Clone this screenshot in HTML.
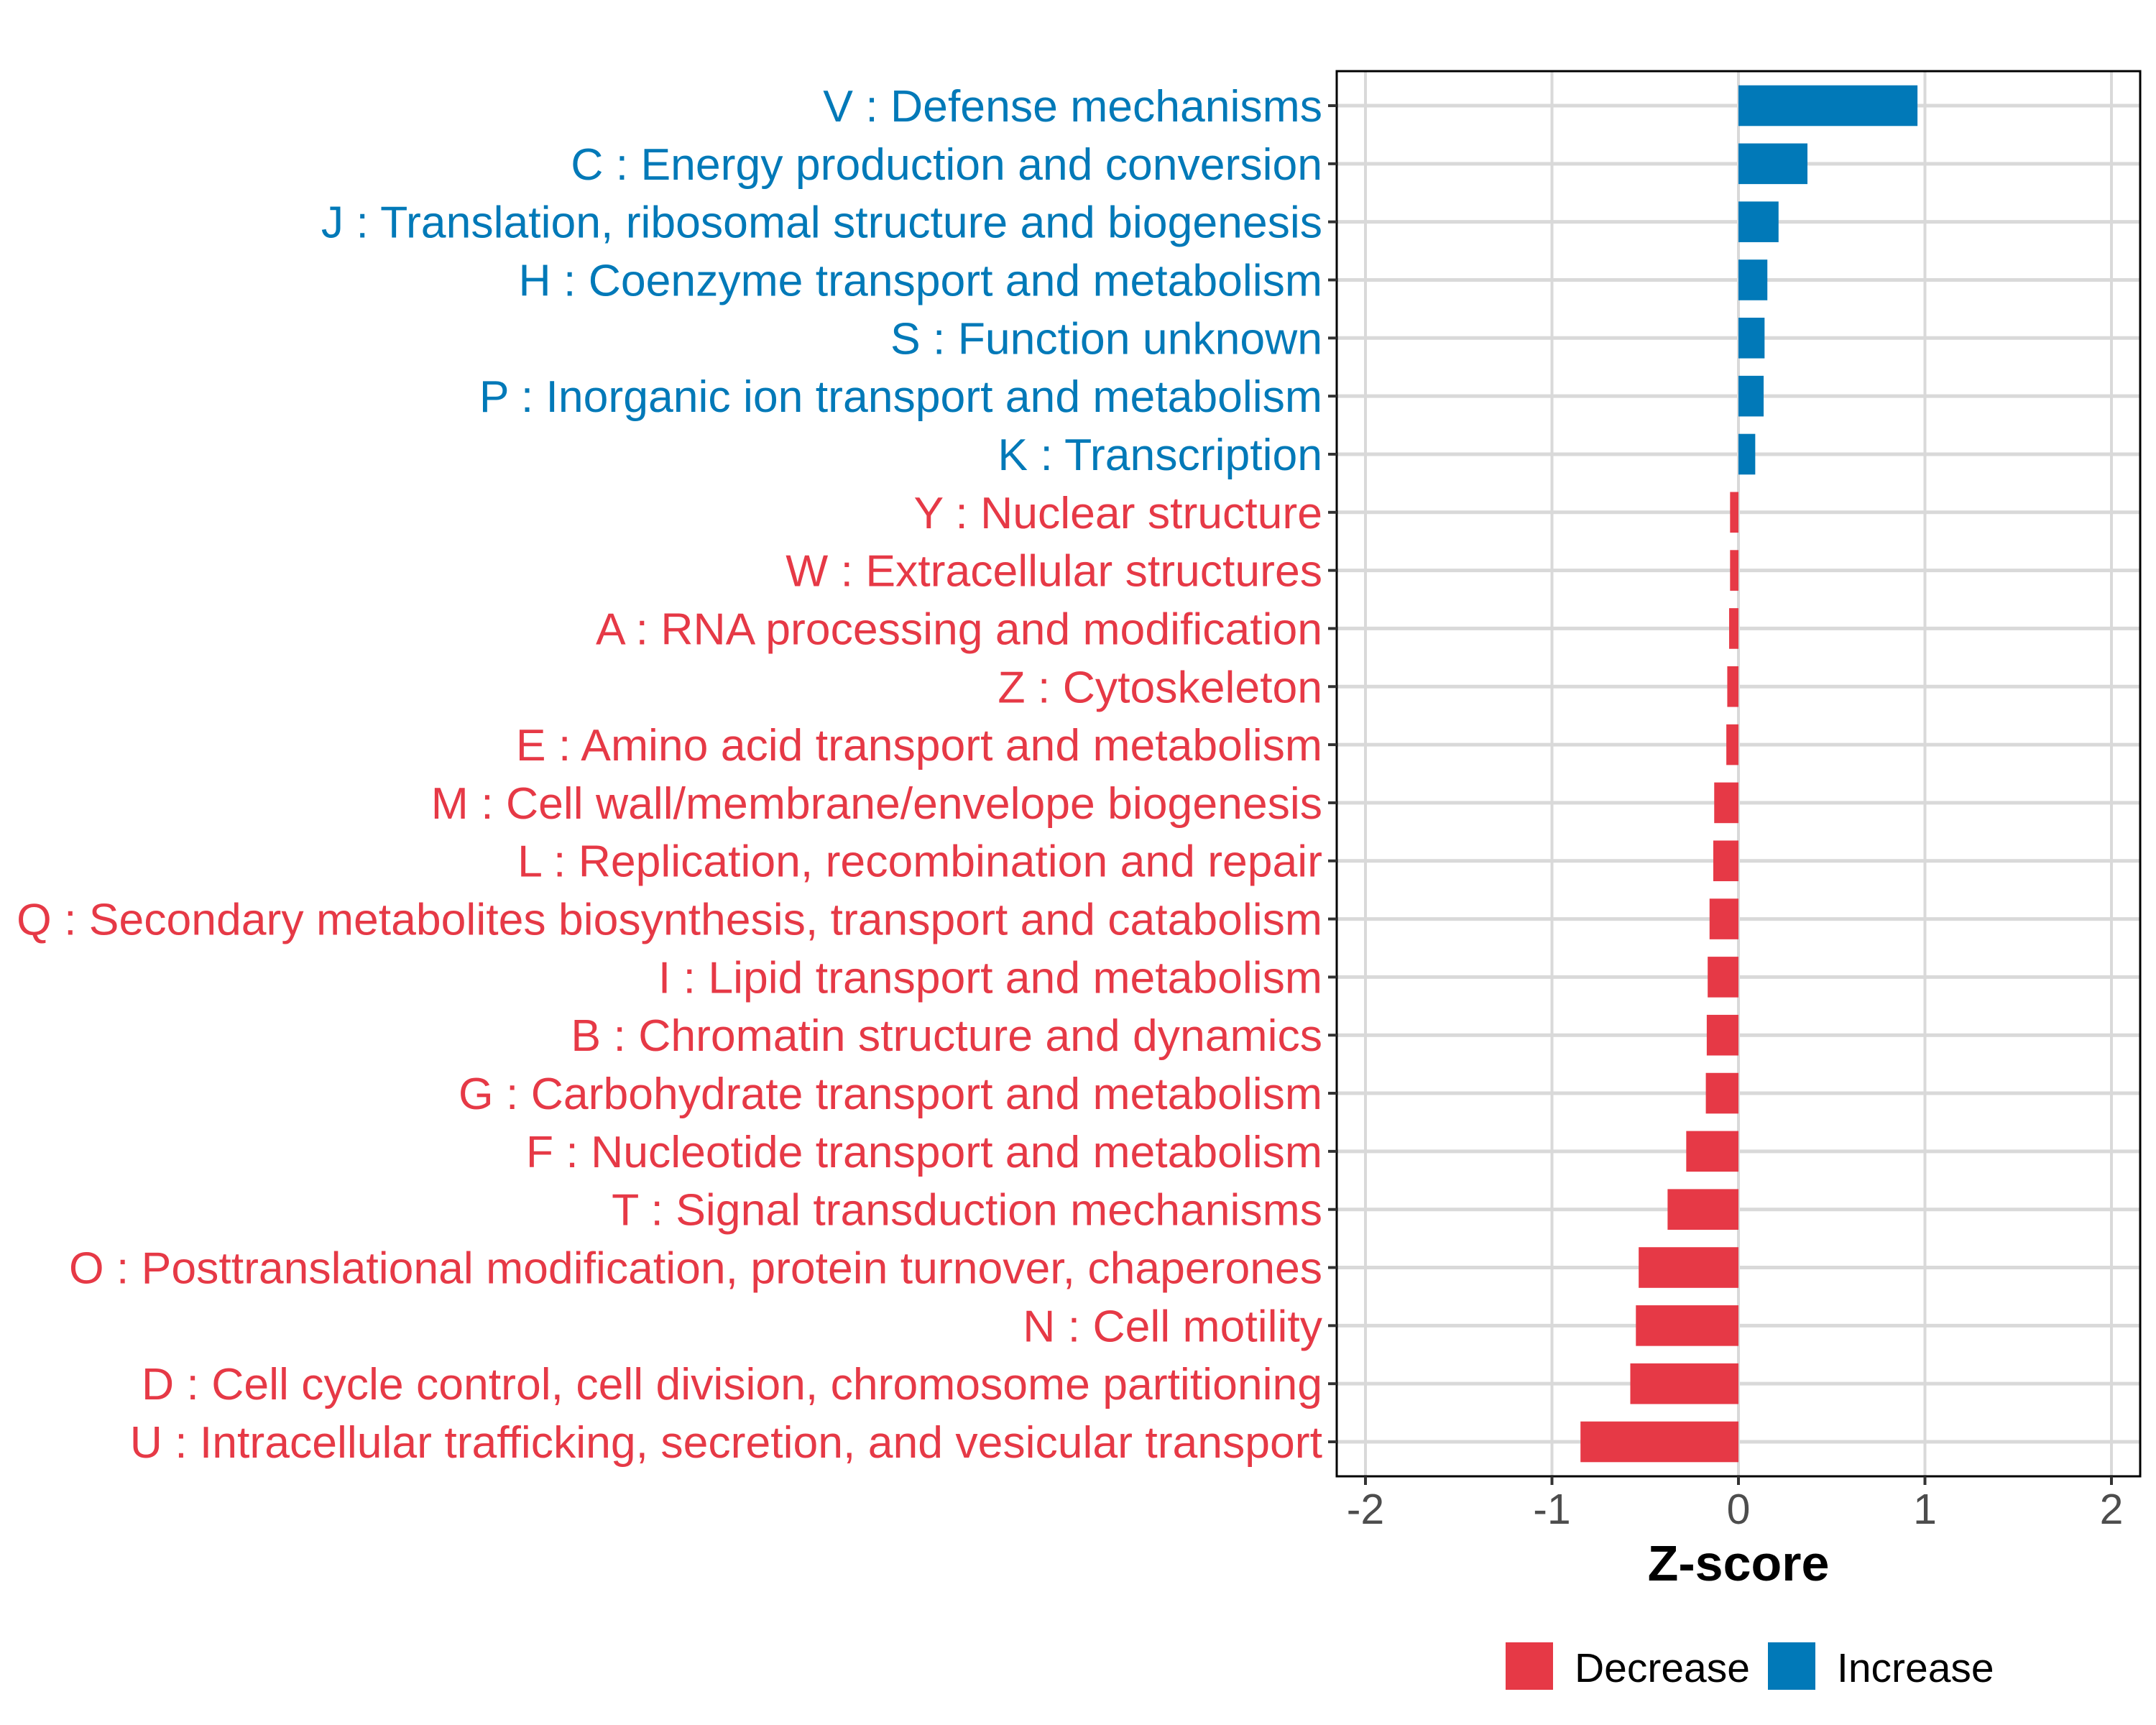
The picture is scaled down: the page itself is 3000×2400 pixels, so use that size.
<!DOCTYPE html>
<html><head><meta charset="utf-8"><style>
html,body{margin:0;padding:0;background:#fff;}
svg{display:block;font-family:"Liberation Sans",sans-serif;}
</style></head><body>
<svg id="chart" width="3000" height="2400" viewBox="0 0 3000 2400"></svg>
<script>
const categories=["V : Defense mechanisms","C : Energy production and conversion","J : Translation, ribosomal structure and biogenesis","H : Coenzyme transport and metabolism","S : Function unknown","P : Inorganic ion transport and metabolism","K : Transcription","Y : Nuclear structure","W : Extracellular structures","A : RNA processing and modification","Z : Cytoskeleton","E : Amino acid transport and metabolism","M : Cell wall/membrane/envelope biogenesis","L : Replication, recombination and repair","Q : Secondary metabolites biosynthesis, transport and catabolism","I : Lipid transport and metabolism","B : Chromatin structure and dynamics","G : Carbohydrate transport and metabolism","F : Nucleotide transport and metabolism","T : Signal transduction mechanisms","O : Posttranslational modification, protein turnover, chaperones","N : Cell motility","D : Cell cycle control, cell division, chromosome partitioning","U : Intracellular trafficking, secretion, and vesicular transport"];
const zscores=[0.96,0.37,0.215,0.155,0.14,0.135,0.09,-0.045,-0.045,-0.05,-0.06,-0.065,-0.13,-0.135,-0.155,-0.165,-0.17,-0.175,-0.28,-0.38,-0.535,-0.55,-0.58,-0.847];
const xTicks=[-2,-1,0,1,2];
const xTickLabels=["-2","-1","0","1","2"];
const legendLabels=["Decrease","Increase"];

const NS="http://www.w3.org/2000/svg";
const svg=document.getElementById('chart');
const RED="#E63946",BLUE="#0179B8";
const PL=1860,PR=2978,PT=99,PB=2054;
const X0=2419,XU=259.5;
const xs=v=>X0+v*XU;
const ROW0=147,ROWH=(2006-147)/23;
const ys=i=>ROW0+i*ROWH;
function mk(tag,attrs,parent){const e=document.createElementNS(NS,tag);for(const k in attrs)e.setAttribute(k,attrs[k]);(parent||svg).appendChild(e);return e;}

const grid=mk('g',{});


xTicks.forEach(t=>{mk('line',{x1:xs(t),x2:xs(t),y1:PT,y2:PB,stroke:'#D9D9D9','stroke-width':4},grid);});
categories.forEach((c,i)=>{mk('line',{x1:PL,x2:PR,y1:ys(i),y2:ys(i),stroke:'#D9D9D9','stroke-width':5},grid);});

const bars=mk('g',{});


const BH=ROWH*0.7;
zscores.forEach((v,i)=>{
  const r=mk('rect',{x:Math.min(xs(0),xs(v)),y:ys(i)-BH/2,width:Math.abs(xs(v)-xs(0)),height:BH,fill:v>=0?BLUE:RED},bars);
  
  
});

const frame=mk('rect',{x:PL,y:PT,width:PR-PL,height:PB-PT,fill:'none',stroke:'#000','stroke-width':3});



const ylab=mk('g',{});


categories.forEach((c,i)=>{
  mk('line',{x1:PL-12,x2:PL,y1:ys(i),y2:ys(i),stroke:'#333','stroke-width':4},ylab);
  const t=mk('text',{x:PL-20,y:ys(i)+22,'text-anchor':'end','font-size':62.5,fill:zscores[i]>=0?BLUE:RED},ylab);
  t.textContent=c;
  
  
});

const xax=mk('g',{});


xTicks.forEach((t,i)=>{
  mk('line',{x1:xs(t),x2:xs(t),y1:PB,y2:PB+12,stroke:'#333','stroke-width':4},xax);
  const tx=mk('text',{x:xs(t),y:2120,'text-anchor':'middle','font-size':59,fill:'#4D4D4D'},xax);
  tx.textContent=xTickLabels[i];
  
  
});
const xt=mk('text',{x:2419,y:2199,'text-anchor':'middle','font-size':70,'font-weight':'bold',fill:'#000'});
xt.textContent='Z-score';



const leg=mk('g',{});


[[2095,RED,2191],[2460,BLUE,2556]].forEach((p,i)=>{
  const r=mk('rect',{x:p[0],y:2285,width:66,height:66,fill:p[1]},leg);
  
  
  const t=mk('text',{x:p[2],y:2340,'font-size':57,fill:'#000'},leg);
  t.textContent=legendLabels[i];
  
  
});
</script>
</body></html>
